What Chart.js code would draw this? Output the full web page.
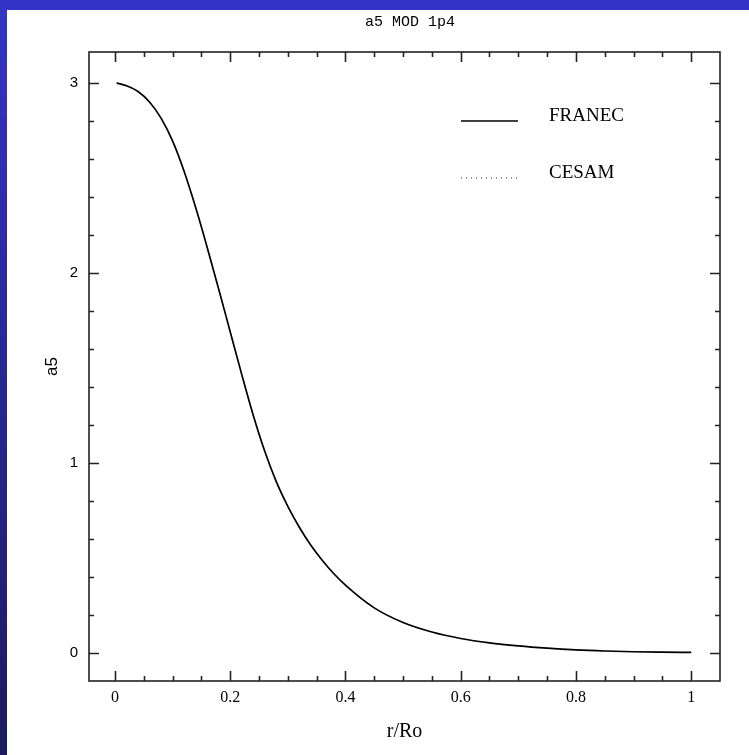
<!DOCTYPE html>
<html>
<head>
<meta charset="utf-8">
<script src="https://cdn.jsdelivr.net/npm/chart.js@4"></script>
<style>
  html, body { margin: 0; padding: 0; }
  body {
    width: 749px; height: 755px; overflow: hidden; position: relative;
    background: linear-gradient(to bottom, #3434c8, #1b1b5e);
  }
  .topbar { position: absolute; left: 0; top: 0; width: 749px; height: 10px; background: #3333c6; }
  #plotCanvas { position: absolute; left: 7px; top: 10px; background: #fff; }
</style>
</head>
<body>
<div class="topbar"></div>
<canvas id="plotCanvas" width="742" height="745"></canvas>
<script>
// r/Ro sample points and the a5 profile
const radius = [0.003, 0.02, 0.04, 0.06, 0.08, 0.10, 0.12, 0.14, 0.16, 0.18, 0.20, 0.22, 0.24, 0.26, 0.28,
    0.30, 0.32, 0.34, 0.36, 0.38, 0.40, 0.45, 0.50, 0.55, 0.60, 0.65, 0.70, 0.75, 0.80, 0.85, 0.90, 0.95, 1.00];
const franecA5 = [3.00, 2.985, 2.955, 2.90, 2.815, 2.695, 2.535, 2.345, 2.135, 1.915, 1.69, 1.465, 1.25, 1.06, 0.90,
    0.77, 0.66, 0.565, 0.485, 0.415, 0.355, 0.235, 0.158, 0.108, 0.074, 0.051, 0.035, 0.023, 0.014, 0.008, 0.004, 0.002, 0.001];
const cesamA5 = [3.00, 2.985, 2.955, 2.90, 2.815, 2.695, 2.535, 2.345, 2.135, 1.915, 1.69, 1.465, 1.25, 1.06, 0.90,
    0.77, 0.66, 0.565, 0.485, 0.415, 0.355, 0.235, 0.158, 0.108, 0.074, 0.051, 0.035, 0.023, 0.014, 0.008, 0.004, 0.002, 0.001];

const xTickValues = [0, 0.2, 0.4, 0.6, 0.8, 1];
const xTickLabels = ['0', '0.2', '0.4', '0.6', '0.8', '1'];
const yTickValues = [0, 1, 2, 3];
const yTickLabels = ['0', '1', '2', '3'];
const seriesNames = ['FRANEC', 'CESAM'];

const toPoints = (xs, ys) => xs.map((x, i) => ({ x, y: ys[i] }));

// frame, inward ticks, legend and title, drawn like the old PGPLOT box
const framePlugin = {
    id: 'frame',
    afterDraw(chart) {
        const { ctx, chartArea: a, scales: { x, y } } = chart;
        ctx.save();
        ctx.strokeStyle = '#222';
        ctx.lineWidth = 1.6;
        ctx.strokeRect(a.left, a.top, a.right - a.left, a.bottom - a.top);

        ctx.beginPath();
        for (let i = 0; i <= 20; i++) {
            const px = Math.round(x.getPixelForValue(i * 0.05)) + 0.5;
            const len = i % 4 === 0 ? 10 : 5;
            ctx.moveTo(px, a.bottom); ctx.lineTo(px, a.bottom - len);
            ctx.moveTo(px, a.top); ctx.lineTo(px, a.top + len);
        }
        for (let i = 0; i <= 15; i++) {
            const py = Math.round(y.getPixelForValue(i * 0.2)) + 0.5;
            const len = i % 5 === 0 ? 10 : 5;
            ctx.moveTo(a.left, py); ctx.lineTo(a.left + len, py);
            ctx.moveTo(a.right, py); ctx.lineTo(a.right - len, py);
        }
        ctx.stroke();

        // legend
        const rows = [111, 168];
        chart.data.datasets.forEach((ds, i) => {
            ctx.beginPath();
            ctx.strokeStyle = ds.legendColor;
            ctx.lineWidth = ds.borderWidth;
            ctx.setLineDash(ds.borderDash || []);
            ctx.moveTo(454, rows[i]); ctx.lineTo(511, rows[i]);
            ctx.stroke();
            ctx.setLineDash([]);
            ctx.fillStyle = '#000';
            ctx.font = '19px "Liberation Serif"';
            ctx.textBaseline = 'middle';
            ctx.fillText(ds.label, 542, rows[i] - 5);
        });

        // title
        ctx.font = '15px "Liberation Mono"';
        ctx.textAlign = 'center';
        ctx.fillText('a5 MOD 1p4', 403, 12);
        ctx.restore();
    }
};

new Chart(document.getElementById('plotCanvas').getContext('2d'), {
    type: 'scatter',
    data: {
        datasets: [
            {
                label: seriesNames[0],
                data: toPoints(radius, franecA5),
                showLine: true,
                borderColor: '#000',
                legendColor: '#000',
                borderWidth: 1.7,
                pointRadius: 0,
                cubicInterpolationMode: 'monotone',
            },
            {
                label: seriesNames[1],
                data: toPoints(radius, cesamA5),
                showLine: true,
                borderColor: '#666',
                legendColor: '#222',
                borderWidth: 1,
                borderDash: [1, 4],
                pointRadius: 0,
                cubicInterpolationMode: 'monotone',
            }
        ]
    },
    options: {
        responsive: false,
        animation: false,
        devicePixelRatio: 1,
        layout: { padding: { top: 42, right: 29, left: 0, bottom: 0 } },
        plugins: { legend: { display: false }, tooltip: { enabled: false } },
        scales: {
            x: {
                type: 'linear',
                min: -0.045,
                max: 1.05,
                grid: { display: false, drawTicks: false },
                border: { display: false },
                afterBuildTicks: (s) => { s.ticks = xTickValues.map(v => ({ value: v })); },
                afterFit: (s) => { s.height = 74; },
                ticks: {
                    color: '#000',
                    padding: 7,
                    font: { family: '"Liberation Serif"', size: 16 },
                    callback: (v) => xTickLabels[xTickValues.indexOf(v)] ?? '',
                },
                title: {
                    display: true,
                    text: 'r/Ro',
                    color: '#000',
                    font: { family: '"Liberation Serif"', size: 20 },
                    padding: { top: 0, bottom: 11 },
                },
            },
            y: {
                type: 'linear',
                min: -0.15,
                max: 3.163,
                grid: { display: false, drawTicks: false },
                border: { display: false },
                afterBuildTicks: (s) => { s.ticks = yTickValues.map(v => ({ value: v })); },
                afterFit: (s) => { s.width = 82; },
                ticks: {
                    color: '#000',
                    padding: 11,
                    font: { family: '"Liberation Sans"', size: 15 },
                    callback: (v) => yTickLabels[yTickValues.indexOf(v)] ?? '',
                },
                title: {
                    display: true,
                    text: 'a5',
                    color: '#000',
                    font: { family: '"Liberation Sans"', size: 17 },
                    padding: { top: 35, bottom: 0 },
                },
            },
        },
    },
    plugins: [framePlugin],
});
</script>
</body>
</html>
